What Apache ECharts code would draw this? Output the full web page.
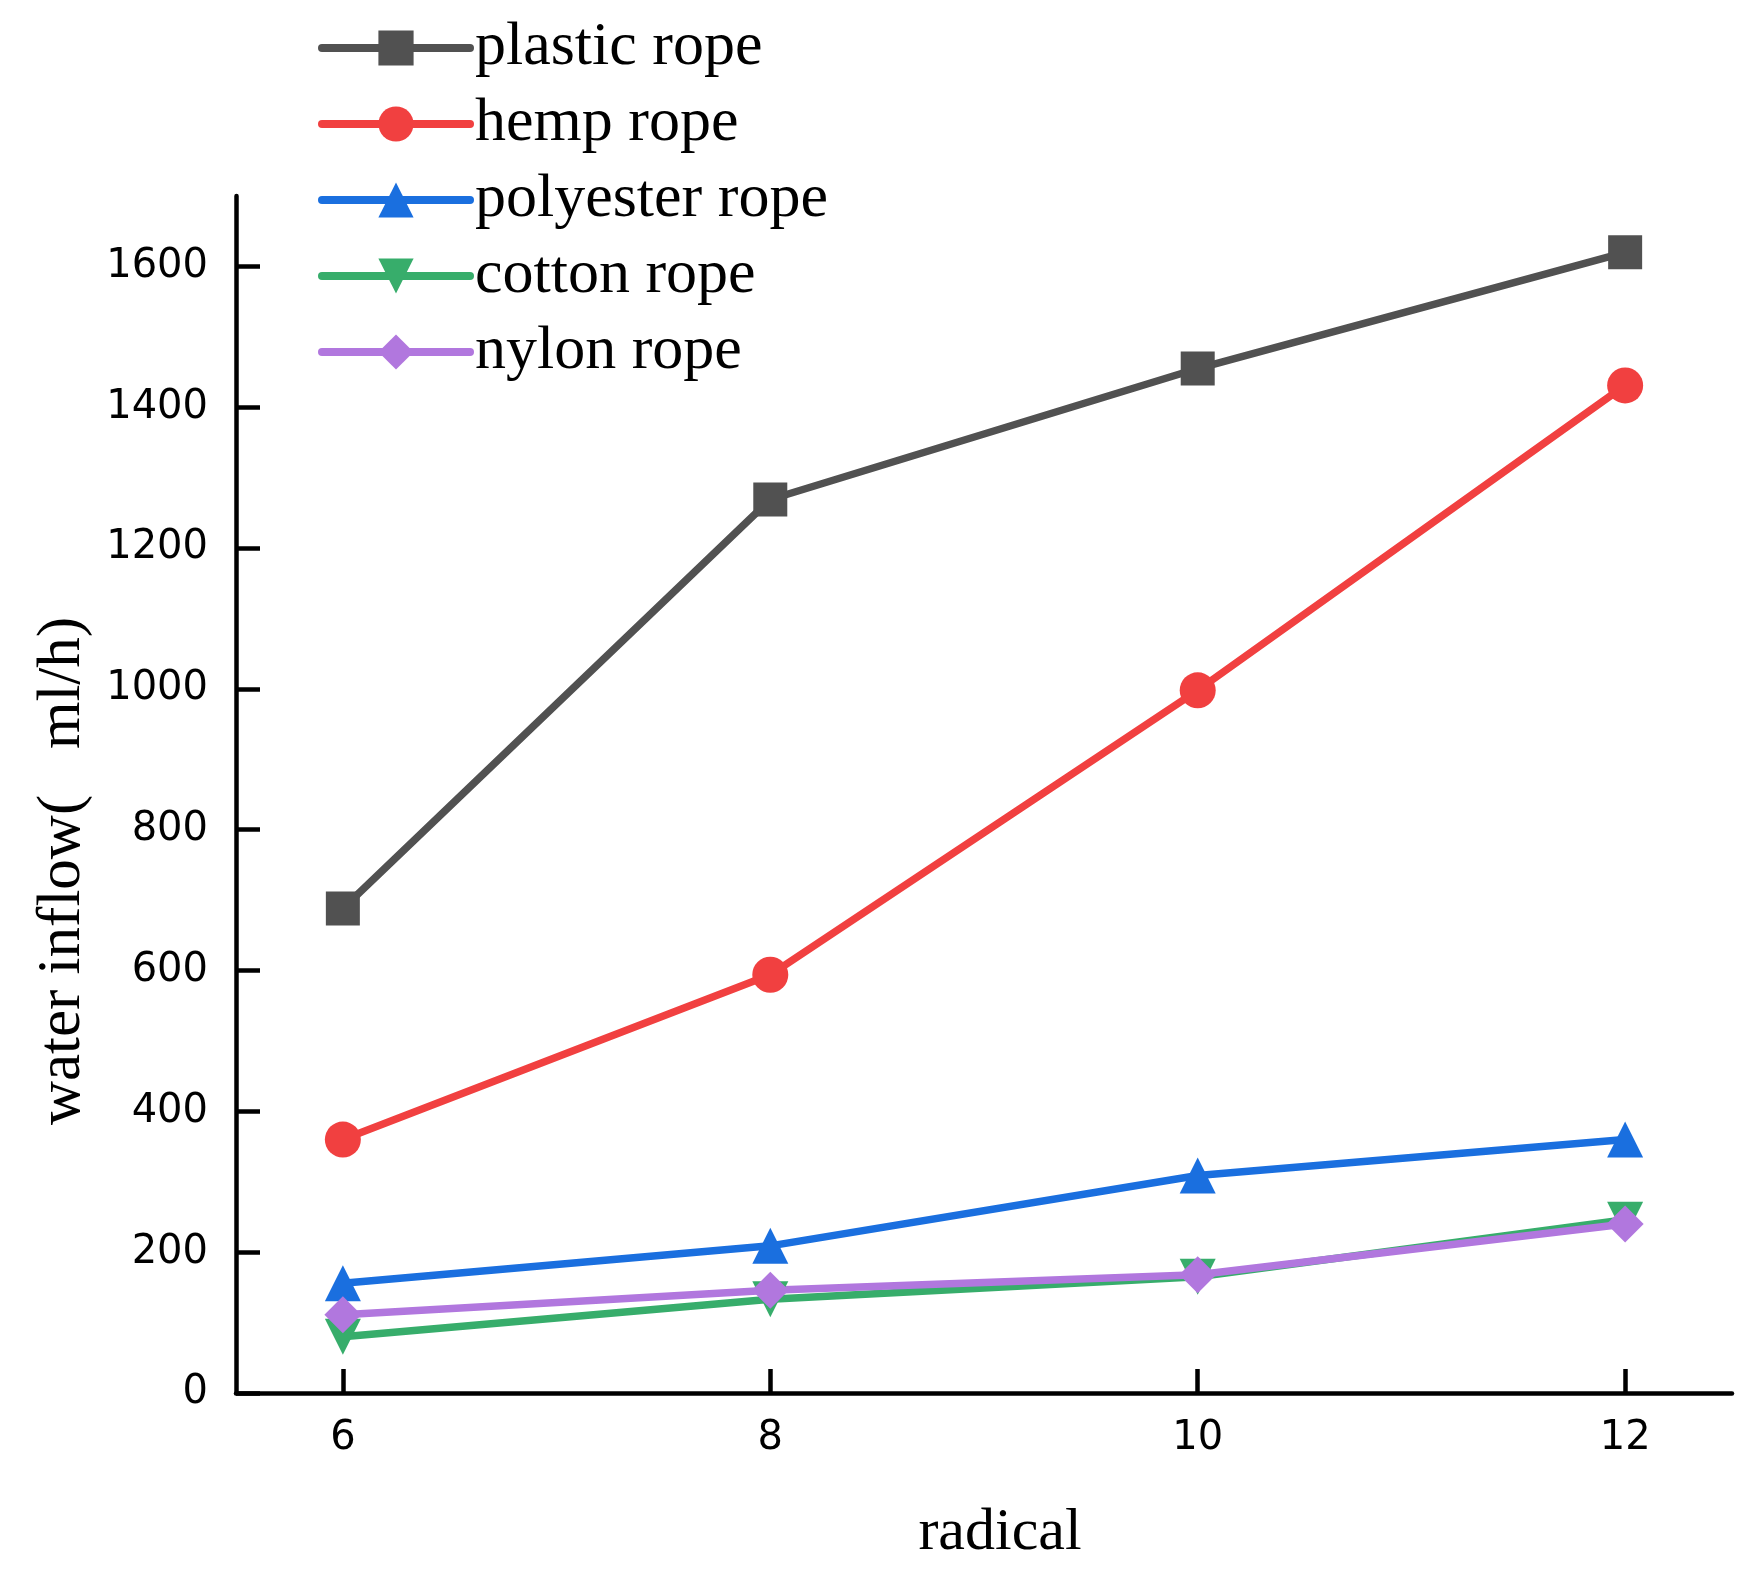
<!DOCTYPE html>
<html>
<head>
<meta charset="utf-8">
<script src="https://cdn.jsdelivr.net/npm/echarts@6/dist/echarts.min.js"></script>
<style>
html,body{margin:0;padding:0;background:#fff;}
#chart{width:1754px;height:1577px;}
</style>
</head>
<body>
<div id="chart"></div>
<script>
const radical = [6, 8, 10, 12];
const plasticRope = [688, 1269, 1455, 1620];
const hempRope = [360, 594, 998, 1431];
const polyesterRope = [156, 209, 309, 360];
const cottonRope = [80, 133, 165, 246];
const nylonRope = [111, 146, 168, 240];
const yTicks = [0, 200, 400, 600, 800, 1000, 1200, 1400, 1600];
const seriesNames = ['plastic rope', 'hemp rope', 'polyester rope', 'cotton rope', 'nylon rope'];
const colors = ['#515151', '#F14040', '#1A6FDF', '#37AD6B', '#B177DE'];

const serif = "'Times New Roman', 'Liberation Serif', serif";
const sans = "'DejaVu Sans', sans-serif";

const allData = [plasticRope, hempRope, polyesterRope, cottonRope, nylonRope];
const symbols = ['rect', 'circle', 'triangle', 'triangle', 'diamond'];
const rotates = [0, 0, 0, 180, 0];
const sizes = [34, 36, 36, 36, 37];

const chart = echarts.init(document.getElementById('chart'));
chart.setOption({
  animation: false,
  backgroundColor: '#fff',
  grid: { left: 236, right: 22, top: 196, bottom: 184, containLabel: false },
  legend: {
    orient: 'vertical',
    left: 318,
    top: 17,
    padding: 0,
    itemWidth: 148,
    itemHeight: 44,
    itemGap: 14,
    lineStyle: { width: 8, cap: 'round' },
    textStyle: { fontFamily: serif, fontSize: 62, color: '#000' },
    data: seriesNames
  },
  xAxis: {
    type: 'value',
    min: 5.5,
    max: 12.5,
    name: 'radical',
    nameLocation: 'middle',
    nameGap: 110,
    nameTextStyle: { fontFamily: serif, fontSize: 60, color: '#000', padding: [0, 0, 0, 32] },
    axisLine: { show: true, lineStyle: { color: '#000', width: 4.5 } },
    axisTick: { show: true, inside: true, length: 24, lineStyle: { width: 4.5, color: '#000' }, customValues: radical },
    axisLabel: { fontFamily: sans, fontSize: 40, color: '#000', margin: 26, customValues: radical },
    splitLine: { show: false }
  },
  yAxis: {
    type: 'value',
    min: 0,
    max: 1700,
    axisLine: { show: true, lineStyle: { color: '#000', width: 4.5 } },
    axisTick: { show: true, inside: true, length: 24, lineStyle: { width: 4.5, color: '#000' }, customValues: yTicks },
    axisLabel: { fontFamily: sans, fontSize: 40, color: '#000', margin: 28, customValues: yTicks, formatter: v => String(v) },
    splitLine: { show: false }
  },
  graphic: [{
    type: 'text',
    x: 63,
    y: 871,
    rotation: Math.PI / 2,
    style: {
      text: 'water inflow(   ml/h)',
      font: "61px 'Times New Roman', 'Liberation Serif', serif",
      fill: '#000',
      textAlign: 'center',
      textVerticalAlign: 'middle'
    }
  }],
  series: seriesNames.map((n, i) => ({
    name: n,
    type: 'line',
    data: radical.map((x, j) => [x, allData[i][j]]),
    symbol: symbols[i],
    symbolRotate: rotates[i],
    symbolSize: sizes[i],
    showAllSymbol: true,
    color: colors[i],
    lineStyle: { width: 7.5, color: colors[i] },
    itemStyle: { color: colors[i] }
  }))
});
</script>
</body>
</html>
